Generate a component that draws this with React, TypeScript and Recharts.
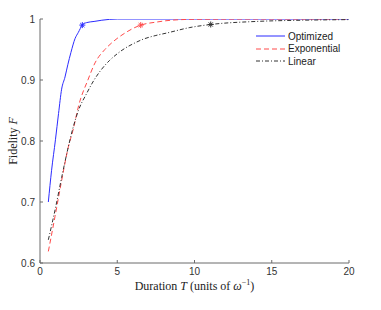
import React from 'react';
import {
  ComposedChart,
  Line,
  Scatter,
  XAxis,
  YAxis,
  Legend,
  Label,
} from 'recharts';

// values (T in units of 1/omega, F = fidelity)
const optimizedT = [0.54, 0.75, 1.0, 1.2, 1.4, 1.62, 1.8, 2.0, 2.27, 2.48, 2.74, 3.0, 3.5, 4.0, 5.0, 10, 15, 20];
const optimizedF = [0.7, 0.752, 0.802, 0.845, 0.885, 0.905, 0.925, 0.945, 0.968, 0.978, 0.99, 0.994, 0.996, 0.998, 1.0, 1.0, 1.0, 1.0];

const exponentialT = [0.54, 0.97, 1.4, 1.83, 2.16, 2.5, 3.1, 3.56, 4.2, 4.74, 5.5, 6.52, 7.55, 8.5, 10, 15, 20];
const exponentialF = [0.619, 0.676, 0.735, 0.79, 0.82, 0.858, 0.9, 0.928, 0.95, 0.963, 0.977, 0.99, 0.995, 0.998, 0.9995, 1.0, 1.0];

const linearT = [0.54, 1.0, 1.4, 1.83, 2.12, 2.5, 3.0, 3.5, 4.0, 4.5, 5.0, 5.5, 6.0, 6.69, 7.5, 8.2, 9.7, 11.05, 14, 17, 20];
const linearF = [0.638, 0.69, 0.74, 0.79, 0.82, 0.851, 0.877, 0.9, 0.918, 0.932, 0.943, 0.952, 0.959, 0.967, 0.973, 0.977, 0.986, 0.991, 0.996, 0.998, 0.999];

// points where each curve first crosses F = 0.99
const markerT = [2.74, 6.52, 11.05];
const markerF = [0.99, 0.99, 0.991];

const xTicks = [0, 5, 10, 15, 20];
const yTicks = [0.6, 0.7, 0.8, 0.9, 1];

const toRows = (ts: number[], fs: number[]) => ts.map((T, i) => ({ T, F: fs[i] }));

const series = [
  { name: 'Optimized', color: '#2b2bff', dash: undefined as string | undefined, data: toRows(optimizedT, optimizedF) },
  { name: 'Exponential', color: '#ff4a4a', dash: '5 3', data: toRows(exponentialT, exponentialF) },
  { name: 'Linear', color: '#333333', dash: '4 2 1 2', data: toRows(linearT, linearF) },
];

const serif = 'Liberation Serif, DejaVu Serif, serif';

const Asterisk = (props: any) => {
  const { cx, cy, fill } = props;
  const r = 3;
  const d = r * 0.7;
  return (
    <g stroke={fill} strokeWidth={1}>
      <line x1={cx - r} y1={cy} x2={cx + r} y2={cy} />
      <line x1={cx} y1={cy - r} x2={cx} y2={cy + r} />
      <line x1={cx - d} y1={cy - d} x2={cx + d} y2={cy + d} />
      <line x1={cx - d} y1={cy + d} x2={cx + d} y2={cy - d} />
    </g>
  );
};

const XLabel = (props: any) => {
  const { x, y, width } = props.viewBox;
  return (
    <text x={x + width / 2} y={y + 27} textAnchor="middle" fontFamily={serif} fontSize={12} fill="#222">
      Duration <tspan fontStyle="italic">T</tspan> (units of <tspan fontStyle="italic">ω</tspan>
      <tspan fontSize={8} dy={-5}>−1</tspan>
      <tspan dy={5}>)</tspan>
    </text>
  );
};

const YLabel = (props: any) => {
  const { x, y, height } = props.viewBox;
  const cx = x + 13;
  const cy = y + height / 2;
  return (
    <text
      x={cx}
      y={cy}
      transform={`rotate(-90 ${cx} ${cy})`}
      textAnchor="middle"
      dominantBaseline="central"
      fontFamily={serif}
      fontSize={12}
      fill="#222"
    >
      Fidelity <tspan fontStyle="italic">F</tspan>
    </text>
  );
};

const LegendBox = () => (
  <div style={{ fontFamily: 'Liberation Sans, Arial, sans-serif', fontSize: 10, color: '#222' }}>
    {series.map((s) => (
      <div key={s.name} style={{ display: 'flex', alignItems: 'center', height: 12.5 }}>
        <svg width={30} height={8}>
          <line x1={0} y1={4} x2={29} y2={4} stroke={s.color} strokeWidth={1} strokeDasharray={s.dash} />
        </svg>
        <span style={{ marginLeft: 2 }}>{s.name}</span>
      </div>
    ))}
  </div>
);

const axisColor = '#6b6b6b';
const tickStyle = { fill: '#333', fontSize: 10, fontFamily: 'Liberation Sans, Arial, sans-serif' };

export default function App() {
  return (
    <div style={{ position: 'absolute', left: 0, top: 0, width: 381, height: 310, background: '#fff' }}>
      <ComposedChart width={381} height={310} margin={{ top: 19, right: 32, bottom: 17, left: 0 }}>
        <XAxis
          type="number"
          dataKey="T"
          domain={[0, 20]}
          ticks={xTicks}
          allowDataOverflow
          stroke={axisColor}
          tickSize={-3}
          tickMargin={8}
          tick={tickStyle}
          height={30}
        >
          <Label content={<XLabel />} />
        </XAxis>
        <YAxis
          type="number"
          dataKey="F"
          domain={[0.6, 1]}
          ticks={yTicks}
          allowDataOverflow
          stroke={axisColor}
          tickSize={-3}
          tickMargin={8}
          tick={tickStyle}
          width={40}
        >
          <Label content={<YLabel />} />
        </YAxis>
        {series.map((s) => (
          <Line
            key={s.name}
            data={s.data}
            dataKey="F"
            name={s.name}
            type="monotone"
            stroke={s.color}
            strokeWidth={1}
            strokeDasharray={s.dash}
            dot={false}
            activeDot={false}
            isAnimationActive={false}
          />
        ))}
        {series.map((s, i) => (
          <Scatter
            key={s.name + '-mark'}
            data={[{ T: markerT[i], F: markerF[i] }]}
            dataKey="F"
            fill={s.color}
            shape={<Asterisk />}
            legendType="none"
            isAnimationActive={false}
          />
        ))}
        <Legend
          layout="vertical"
          align="center"
          verticalAlign="middle"
          content={<LegendBox />}
          wrapperStyle={{ top: 30, left: 256, width: 110 }}
        />
      </ComposedChart>
    </div>
  );
}
